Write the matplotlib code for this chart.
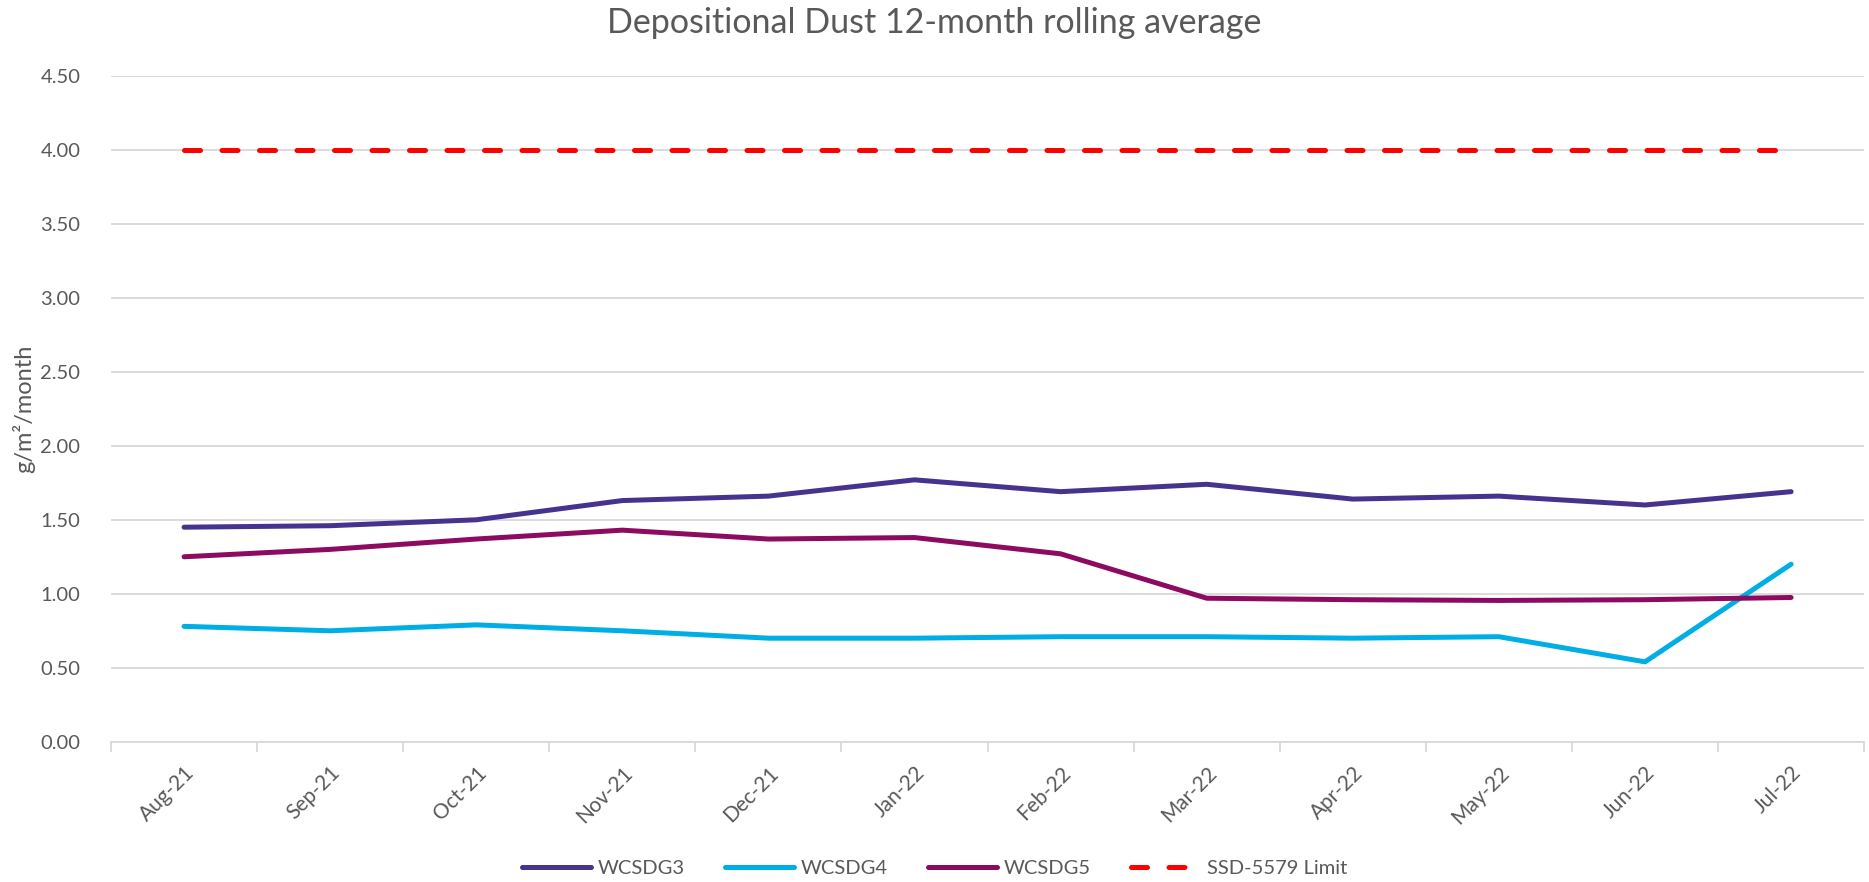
import numpy as np
import matplotlib
matplotlib.use("Agg")
import matplotlib.pyplot as plt

plt.rcParams['font.family'] = ['Lato', 'DejaVu Sans']

# data
months = ['Aug-21', 'Sep-21', 'Oct-21', 'Nov-21', 'Dec-21', 'Jan-22',
          'Feb-22', 'Mar-22', 'Apr-22', 'May-22', 'Jun-22', 'Jul-22']
wcsdg3 = [1.45, 1.46, 1.50, 1.63, 1.66, 1.77, 1.69, 1.74, 1.64, 1.66, 1.60, 1.69]
wcsdg4 = [0.78, 0.75, 0.79, 0.75, 0.70, 0.70, 0.71, 0.71, 0.70, 0.71, 0.54, 1.20]
wcsdg5 = [1.25, 1.30, 1.37, 1.43, 1.37, 1.38, 1.27, 0.97, 0.96, 0.955, 0.96, 0.975]
limit = [4.00] * 12
yticks = [0.0, 0.5, 1.0, 1.5, 2.0, 2.5, 3.0, 3.5, 4.0, 4.5]

txt = '#595959'
grid = '#D9D9D9'

fig = plt.figure(figsize=(18.69, 8.82), dpi=100)
ax = fig.add_axes([0.0594, 0.159, 0.938, 0.755])

x = np.arange(len(months))
ax.plot(x, wcsdg3, color='#46328F', lw=3.6, solid_capstyle='round', solid_joinstyle='round', label='WCSDG3', zorder=3)
ax.plot(x, wcsdg4, color='#00AEE6', lw=3.6, solid_capstyle='round', solid_joinstyle='round', label='WCSDG4', zorder=3)
ax.plot(x, wcsdg5, color='#8C0B60', lw=3.6, solid_capstyle='round', solid_joinstyle='round', label='WCSDG5', zorder=3)
ax.plot(x, limit, color='#FF0000', lw=3.6, dashes=(3.2, 4.3), dash_capstyle='round', label='SSD-5579 Limit', zorder=3)

ax.set_xlim(-0.5, len(months) - 0.5)
ax.set_ylim(0, 4.5)
ax.set_yticks(yticks)
ax.set_yticklabels(['%.2f' % v for v in yticks])
ax.yaxis.grid(True, color=grid, lw=1.3)
ax.set_axisbelow(True)

# category labels at centres, tick marks on the boundaries
ax.set_xticks(x)
ax.set_xticklabels(months, rotation=45, ha='right', rotation_mode='anchor')
ax.set_xticks(np.arange(-0.5, len(months)), minor=True)
ax.tick_params(axis='x', which='major', length=0, pad=15, labelsize=15, labelcolor=txt)
ax.tick_params(axis='x', which='minor', length=7, width=1.3, color=grid)
ax.tick_params(axis='y', length=0, pad=22, labelsize=14.5, labelcolor=txt)

for s in ['top', 'right', 'left']:
    ax.spines[s].set_visible(False)
ax.spines['bottom'].set_color(grid)
ax.spines['bottom'].set_linewidth(1.3)

ax.set_ylabel('g/m²/month', fontsize=17, color=txt, labelpad=4)

fig.text(0.5, 0.974, 'Depositional Dust 12-month rolling average', ha='center', va='center',
         fontsize=24.5, color=txt)

leg = fig.legend(loc='center', bbox_to_anchor=(0.5, 0.015), ncol=4, frameon=False,
                 fontsize=14.5, handlelength=3.4, handletextpad=0.35, columnspacing=2.0)
for t in leg.get_texts():
    t.set_color(txt)

plt.savefig('out.png', dpi=100)
